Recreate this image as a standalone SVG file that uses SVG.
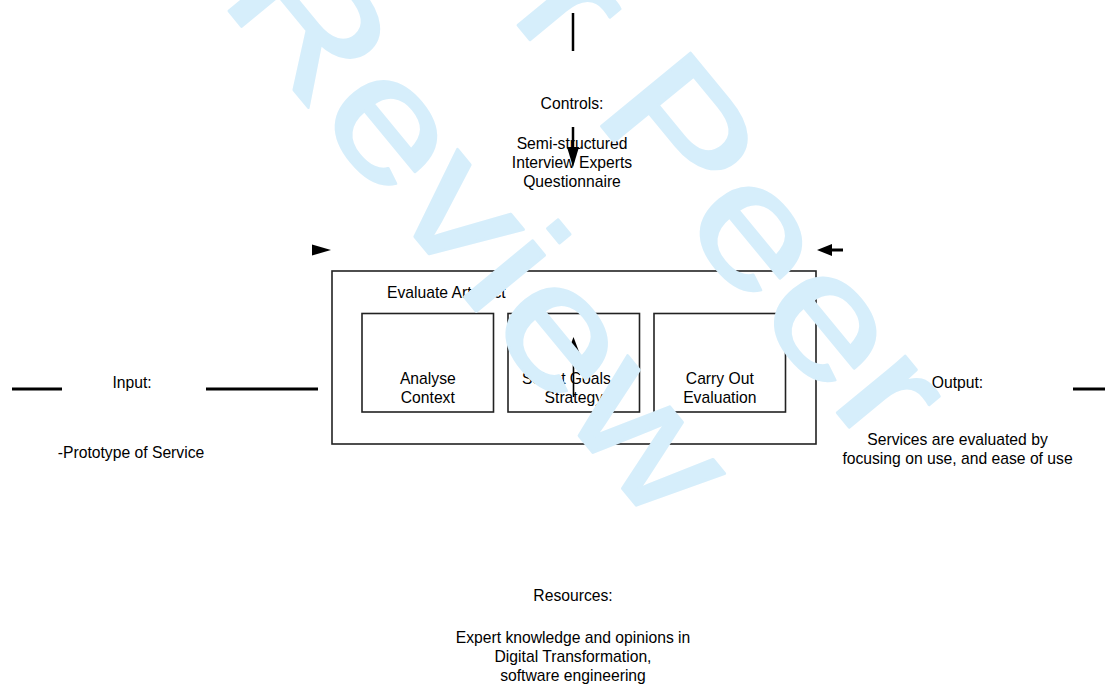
<svg xmlns="http://www.w3.org/2000/svg" width="1111" height="684" viewBox="0 0 1111 684">
  <style>
    .t { font-family: "Liberation Sans", Arial, sans-serif; font-size: 15.7px; fill: #000; }
    .c { text-anchor: middle; }
    .box { fill: none; stroke: #222; stroke-width: 1.6; }
    .wire { stroke: #000; stroke-width: 3; fill: none; }
    .thin { stroke: #000; stroke-width: 1.6; fill: none; }
    .head { fill: #000; stroke: none; }
    .wm { font-family: "Liberation Sans", Arial, sans-serif; font-size: 168px; fill: #d6eefb; stroke: #d6eefb; stroke-width: 2.5; stroke-linejoin: round; }
  </style>

  <rect width="1111" height="684" fill="#fff"/>

  <!-- connectors -->
  <g id="connectors">
    <!-- control line from top -->
    <line class="wire" x1="573" y1="13" x2="573" y2="51" style="stroke-width:2.5"/>
    <line class="wire" x1="573" y1="127" x2="573" y2="150" style="stroke-width:2.5"/>
    <polygon class="head" points="567,147 579,147 573,167"/>
    <!-- input lines -->
    <line class="wire" x1="12" y1="389" x2="62" y2="389"/>
    <line class="wire" x1="206" y1="389" x2="318" y2="389"/>
    <!-- output line -->
    <line class="wire" x1="1073" y1="389" x2="1105" y2="389"/>
    <!-- arrowheads above the activity box -->
    <polygon class="head" points="312,244.5 331,250 312,255.5"/>
    <polygon class="head" points="817,250 832,244 832,256"/>
    <line class="wire" x1="831" y1="250" x2="843" y2="250"/>
    <!-- resource arrow inside the box -->
    <line class="thin" x1="573.5" y1="350" x2="573.5" y2="397"/>
    <polygon class="head" points="573.5,337 567.5,353 579.5,353"/>
  </g>

  <!-- labels -->
  <g id="controls">
    <text class="t c" x="572" y="108.5">Controls:</text>
    <text class="t c" x="572" y="148.5">Semi-structured</text>
    <text class="t c" x="572" y="167.5">Interview Experts</text>
    <text class="t c" x="572" y="186.5">Questionnaire</text>
  </g>

  <g id="input">
    <text class="t c" x="132" y="388">Input:</text>
    <text class="t c" x="131" y="457.5">-Prototype of Service</text>
  </g>

  <g id="output">
    <text class="t c" x="957.5" y="388">Output:</text>
    <text class="t c" x="957.5" y="444.5">Services are evaluated by</text>
    <text class="t c" x="957.5" y="464">focusing on use, and ease of use</text>
  </g>

  <g id="resources">
    <text class="t c" x="573" y="600.5">Resources:</text>
    <text class="t c" x="573" y="642.5">Expert knowledge and opinions in</text>
    <text class="t c" x="573" y="661.5">Digital Transformation,</text>
    <text class="t c" x="573" y="681">software engineering</text>
  </g>

  <!-- activity box with its three steps -->
  <g id="evaluate-artefact">
    <rect class="box" x="332" y="271" width="484" height="173"/>
    <text class="t" x="387" y="298">Evaluate Artefact</text>
  </g>

  <g id="analyse-context">
    <rect class="box" x="362" y="313.5" width="131.5" height="98.5"/>
    <text class="t c" x="427.8" y="383.5">Analyse</text>
    <text class="t c" x="427.8" y="402.5">Context</text>
  </g>

  <g id="select-goals">
    <rect class="box" x="508" y="313.5" width="131.5" height="98.5"/>
    <text class="t c" x="573.8" y="383.5">Select Goals &amp;</text>
    <text class="t c" x="573.8" y="402.5">Strategy</text>
  </g>

  <g id="carry-out-evaluation">
    <rect class="box" x="654" y="313.5" width="131.5" height="98.5"/>
    <text class="t c" x="719.8" y="383.5">Carry Out</text>
    <text class="t c" x="719.8" y="402.5">Evaluation</text>
  </g>

  <!-- review watermark over the page -->
  <g id="watermark" transform="translate(218 -2) rotate(50.5) scale(1.25 1)">
    <text class="wm" x="-38" y="-214">For Peer</text>
    <text class="wm" x="0" y="0">Review</text>
  </g>
</svg>
